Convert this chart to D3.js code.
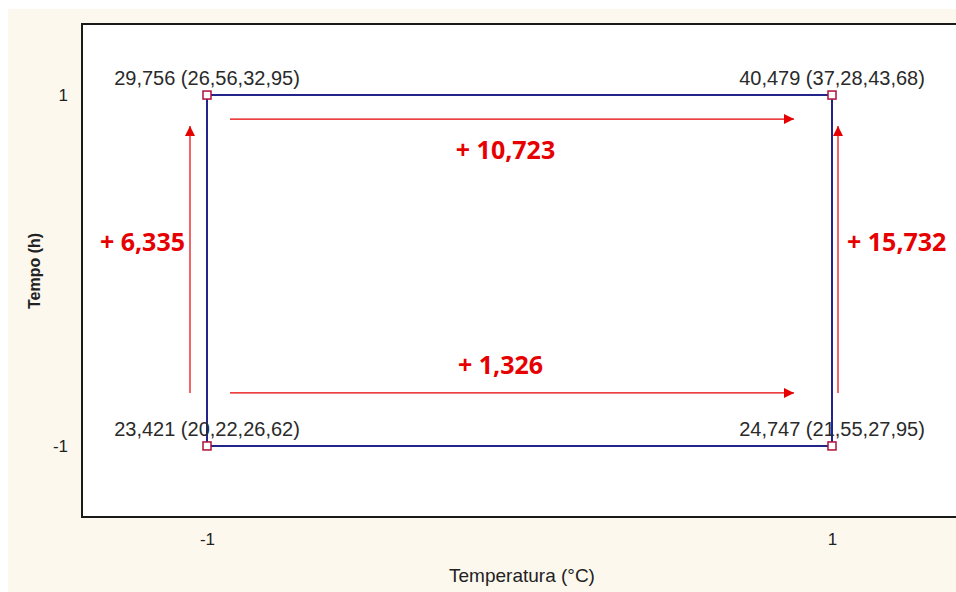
<!DOCTYPE html>
<html>
<head>
<meta charset="utf-8">
<script src="https://cdn.jsdelivr.net/npm/d3@7"></script>
<style>
  html, body { margin: 0; padding: 0; background: #ffffff; }
  svg { display: block; }
</style>
</head>
<body>
<svg id="chart" width="956" height="592"></svg>
<script>
// Factor levels (coded) and observed means with confidence limits
const temperatureLevels = [-1, 1];
const timeLevels = [-1, 1];
const cellTemperature = [-1, -1, 1, 1];
const cellTime = [-1, 1, -1, 1];
const cellMean = [23.421, 29.756, 24.747, 40.479];
const cellLow = [20.22, 26.56, 21.55, 37.28];
const cellHigh = [26.62, 32.95, 27.95, 43.68];
const xTickLabels = ["-1", "1"];
const yTickLabels = ["-1", "1"];

const cells = cellMean.map((m, i) => ({
  t: cellTemperature[i], h: cellTime[i], mean: m, low: cellLow[i], high: cellHigh[i]
}));
const cellAt = (t, h) => cells.find(c => c.t === t && c.h === h);

const ptBR = d3.formatLocale({ decimal: ",", thousands: ".", grouping: [3], currency: ["", ""] });
const f3 = ptBR.format(".3f");
const f2 = ptBR.format(".2f");

const svg = d3.select("#chart");
const W = 956, H = 592;
const sans = "Liberation Sans, Arial, sans-serif";

// Panel background
svg.append("rect").attr("x", 8).attr("y", 9).attr("width", W - 8).attr("height", H - 9)
  .attr("fill", "#fcf8ee");

const x = d3.scaleLinear().domain([-1.4, 1.4]).range([82, 957]);
const y = d3.scaleLinear().domain([-1.405, 1.405]).range([517, 24]);

// Plot area
svg.append("rect")
  .attr("x", x(-1.4)).attr("y", y(1.405))
  .attr("width", x(1.4) - x(-1.4)).attr("height", y(-1.405) - y(1.405))
  .attr("fill", "#ffffff").attr("stroke", "#1a1a1a").attr("stroke-width", 2);

// Axes (labels only)
const xAxis = svg.append("g").attr("transform", `translate(0,${y(-1.405) + 12})`)
  .call(d3.axisBottom(x).tickValues(temperatureLevels).tickSize(0)
    .tickFormat((d, i) => xTickLabels[i]));
const yAxis = svg.append("g").attr("transform", `translate(${x(-1.4) - 11},0)`)
  .call(d3.axisLeft(y).tickValues(timeLevels).tickSize(0)
    .tickFormat((d, i) => yTickLabels[i]));
[xAxis, yAxis].forEach(g => {
  g.select(".domain").remove();
  g.selectAll("text").attr("font-family", sans)
    .attr("font-size", 17).attr("fill", "#222");
});
xAxis.selectAll("text").attr("dy", "0.71em").attr("y", 4);

svg.append("text").attr("x", 522).attr("y", 582)
  .attr("text-anchor", "middle").attr("font-family", sans)
  .attr("font-size", 19).attr("fill", "#222").text("Temperatura (°C)");
svg.append("text").attr("transform", `translate(40,271) rotate(-90)`)
  .attr("text-anchor", "middle").attr("font-family", sans).attr("font-weight", "bold")
  .attr("font-size", 16).attr("fill", "#222").text("Tempo (h)");

// Interaction rectangle joining the four cell means
const corners = [cellAt(-1, -1), cellAt(-1, 1), cellAt(1, 1), cellAt(1, -1)];
svg.append("path")
  .attr("d", d3.line().x(d => x(d.t)).y(d => y(d.h))(corners) + "Z")
  .attr("fill", "none").attr("stroke", "#23238c").attr("stroke-width", 2);

// Cell labels: mean (lower, upper)
svg.selectAll(".cell-label").data(cells).join("text")
  .attr("class", "cell-label")
  .attr("x", d => x(d.t)).attr("y", d => y(d.h) - 10)
  .attr("text-anchor", "middle")
  .attr("font-family", sans)
  .attr("font-size", 20).attr("fill", "#2a2a2a")
  .text(d => `${f3(d.mean)} (${f2(d.low)},${f2(d.high)})`);

// Markers
svg.selectAll(".marker").data(cells).join("rect")
  .attr("class", "marker")
  .attr("x", d => x(d.t) - 4).attr("y", d => y(d.h) - 4)
  .attr("width", 8).attr("height", 8)
  .attr("fill", "#ffffff").attr("stroke", "#b0103a").attr("stroke-width", 1.5);

// Effect arrows
const red = "#e60000";
svg.append("defs").append("marker")
  .attr("id", "head").attr("viewBox", "0 0 10 10")
  .attr("refX", 10).attr("refY", 5)
  .attr("markerWidth", 14).attr("markerHeight", 10)
  .attr("markerUnits", "userSpaceOnUse")
  .attr("orient", "auto")
  .append("path").attr("d", "M0,0 L10,5 L0,10 Z").attr("fill", red);

const effects = [
  { from: cellAt(-1, 1), to: cellAt(1, 1), dir: "h", off: 24 },
  { from: cellAt(-1, -1), to: cellAt(1, -1), dir: "h", off: -53 },
  { from: cellAt(-1, -1), to: cellAt(-1, 1), dir: "v", off: -17 },
  { from: cellAt(1, -1), to: cellAt(1, 1), dir: "v", off: 6 }
].map(e => ({ ...e, value: e.to.mean - e.from.mean }));

effects.forEach(e => {
  let x1, y1, x2, y2;
  if (e.dir === "h") {
    x1 = x(e.from.t) + 23; x2 = x(e.to.t) - 38;
    y1 = y2 = y(e.from.h) + e.off;
  } else {
    x1 = x2 = x(e.from.t) + e.off;
    y1 = y(e.from.h) - 53; y2 = y(e.to.h) + 31;
  }
  svg.append("line").attr("x1", x1).attr("y1", y1).attr("x2", x2).attr("y2", y2)
    .attr("stroke", red).attr("stroke-width", 1.2).attr("marker-end", "url(#head)");
});

const effLabel = svg.append("g")
  .attr("font-family", "Open Sans, Liberation Sans, Arial, sans-serif")
  .attr("font-weight", "bold").attr("font-size", 25).attr("fill", red);
const eTop = effects[0], eBot = effects[1], eLeft = effects[2], eRight = effects[3];
effLabel.append("text").attr("x", (x(-1) + x(1)) / 2 - 14).attr("y", y(1) + 64)
  .attr("text-anchor", "middle").text("+ " + f3(eTop.value));
effLabel.append("text").attr("x", (x(-1) + x(1)) / 2 - 19).attr("y", y(-1) - 72)
  .attr("text-anchor", "middle").text("+ " + f3(eBot.value));
effLabel.append("text").attr("x", x(-1) - 22).attr("y", (y(-1) + y(1)) / 2 - 20)
  .attr("text-anchor", "end").text("+ " + f3(eLeft.value));
effLabel.append("text").attr("x", x(1) + 15).attr("y", (y(-1) + y(1)) / 2 - 20)
  .attr("text-anchor", "start").text("+ " + f3(eRight.value));
</script>
</body>
</html>
